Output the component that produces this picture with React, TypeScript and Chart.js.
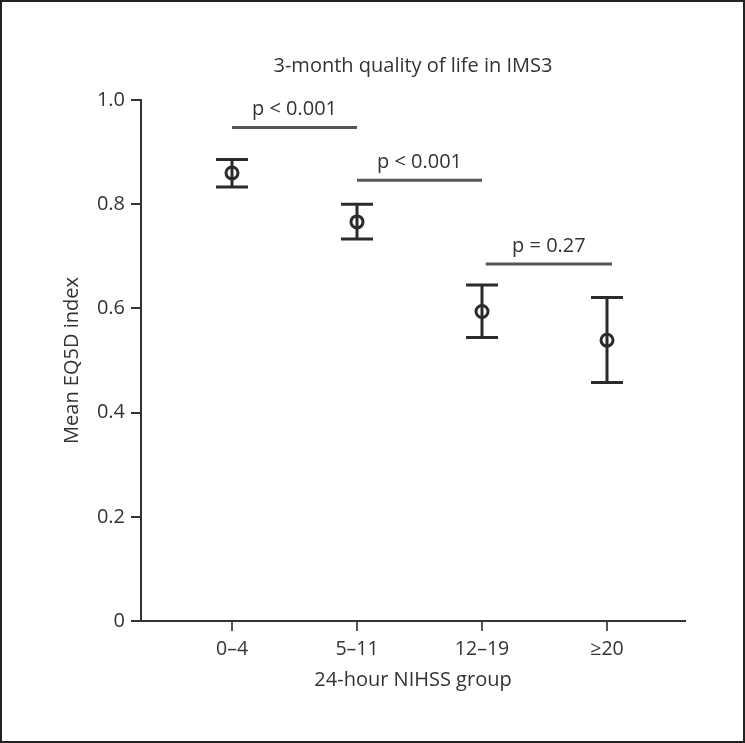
import React, { useEffect, useRef } from "react";
import { Chart, registerables } from "chart.js";
Chart.register(...registerables);

const categories = ["0–4", "5–11", "12–19", "≥20"];
const xPositions = [1, 2, 3, 4];
const means = [0.86, 0.766, 0.594, 0.539];
const lowerCI = [0.833, 0.733, 0.544, 0.458];
const upperCI = [0.886, 0.8, 0.645, 0.621];
const yTicks = [0, 0.2, 0.4, 0.6, 0.8, 1.0];
const bracketFrom = [1, 2, 3.03];
const bracketTo = [2, 3, 4.04];
const bracketLevel = [0.947, 0.846, 0.685];
const bracketLabels = ["p < 0.001", "p < 0.001", "p = 0.27"];
const titleText = "3-month quality of life in IMS3";
const xTitle = "24-hour NIHSS group";
const yTitle = "Mean EQ5D index";

const FONT = '"Open Sans", "Noto Sans", sans-serif';
const W = 745;
const H = 743;

const overlay = {
  id: "overlay",
  beforeDraw(chart: any) {
    const ctx = chart.ctx;
    ctx.save();
    ctx.fillStyle = "#ffffff";
    ctx.fillRect(0, 0, chart.width, chart.height);
    ctx.restore();
  },
  beforeDatasetsDraw(chart: any) {
    const ctx = chart.ctx;
    const xs = chart.scales.x;
    const ys = chart.scales.y;
    ctx.save();
    ctx.strokeStyle = "#2b2b2b";
    ctx.lineWidth = 3;
    ctx.lineCap = "butt";
    for (let i = 0; i < xPositions.length; i++) {
      const px = xs.getPixelForValue(xPositions[i]);
      const yu = ys.getPixelForValue(upperCI[i]);
      const yl = ys.getPixelForValue(lowerCI[i]);
      ctx.beginPath();
      ctx.moveTo(px, yu);
      ctx.lineTo(px, yl);
      ctx.moveTo(px - 16, yu);
      ctx.lineTo(px + 16, yu);
      ctx.moveTo(px - 16, yl);
      ctx.lineTo(px + 16, yl);
      ctx.stroke();
    }
    ctx.restore();
  },
  afterDraw(chart: any) {
    const ctx = chart.ctx;
    const xs = chart.scales.x;
    const ys = chart.scales.y;
    const area = chart.chartArea;
    ctx.save();
    // brackets
    ctx.strokeStyle = "#555555";
    ctx.lineWidth = 3;
    ctx.fillStyle = "#333333";
    ctx.font = `20px ${FONT}`;
    ctx.textAlign = "center";
    ctx.textBaseline = "middle";
    for (let i = 0; i < bracketFrom.length; i++) {
      const x1 = xs.getPixelForValue(bracketFrom[i]);
      const x2 = xs.getPixelForValue(bracketTo[i]);
      const y = ys.getPixelForValue(bracketLevel[i]);
      ctx.beginPath();
      ctx.moveTo(x1, y);
      ctx.lineTo(x2, y);
      ctx.stroke();
      ctx.fillText(bracketLabels[i], (x1 + x2) / 2, y - 18);
    }
    // title
    ctx.font = `20px ${FONT}`;
    ctx.fillText(titleText, (area.left + area.right) / 2, 66);
    // x title
    ctx.fillText(xTitle, (area.left + area.right) / 2, 680);
    // y title
    ctx.translate(72, (area.top + area.bottom) / 2);
    ctx.rotate(-Math.PI / 2);
    ctx.fillText(yTitle, 0, 0);
    ctx.restore();
    // frame
    ctx.save();
    ctx.strokeStyle = "#222222";
    ctx.lineWidth = 2;
    ctx.strokeRect(1, 1, chart.width - 2, chart.height - 2);
    ctx.restore();
  },
};

export default function App() {
  const ref = useRef<HTMLCanvasElement | null>(null);
  useEffect(() => {
    document.body.style.margin = "0";
    if (!ref.current) return;
    const chart = new Chart(ref.current, {
      type: "scatter",
      data: {
        datasets: [
          {
            data: xPositions.map((x, i) => ({ x, y: means[i] })),
            pointStyle: "circle",
            pointRadius: 6,
            pointHoverRadius: 6,
            pointBorderWidth: 3,
            borderColor: "#2b2b2b",
            backgroundColor: "rgba(0,0,0,0)",
            showLine: false,
          },
        ],
      },
      options: {
        animation: false,
        responsive: false,
        events: [],
        layout: { padding: { top: 100, right: 60, bottom: 0, left: 0 } },
        plugins: {
          legend: { display: false },
          title: { display: false },
          tooltip: { enabled: false },
        },
        scales: {
          x: {
            type: "linear",
            min: 0.272,
            max: 4.624,
            afterBuildTicks: (s: any) => {
              s.ticks = xPositions.map((v) => ({ value: v }));
            },
            afterFit: (s: any) => {
              s.height = H - 621;
            },
            grid: {
              drawOnChartArea: false,
              drawTicks: true,
              tickLength: 10,
              color: "#555555",
              lineWidth: 2,
            },
            border: { display: true, color: "#333333", width: 2 },
            ticks: {
              padding: 7,
              color: "#333333",
              font: { size: 19.5, family: FONT },
              maxRotation: 0,
              autoSkip: false,
              callback: (v: any) => {
                const idx = xPositions.indexOf(Number(v));
                return idx >= 0 ? categories[idx] : "";
              },
            },
          },
          y: {
            type: "linear",
            min: 0,
            max: 1,
            afterBuildTicks: (s: any) => {
              s.ticks = yTicks.map((v) => ({ value: v }));
            },
            afterFit: (s: any) => {
              s.width = 141;
            },
            grid: {
              drawOnChartArea: false,
              drawTicks: true,
              tickLength: 10,
              color: "#333333",
              lineWidth: 2,
            },
            border: { display: true, color: "#333333", width: 2 },
            ticks: {
              padding: 6,
              color: "#333333",
              font: { size: 20, family: FONT },
              callback: (v: any) => (Number(v) === 0 ? "0" : Number(v).toFixed(1)),
            },
          },
        },
      },
      plugins: [overlay],
    });
    return () => chart.destroy();
  }, []);
  return (
    <div style={{ width: W, height: H }}>
      <canvas ref={ref} width={W} height={H} style={{ display: "block" }} />
    </div>
  );
}
